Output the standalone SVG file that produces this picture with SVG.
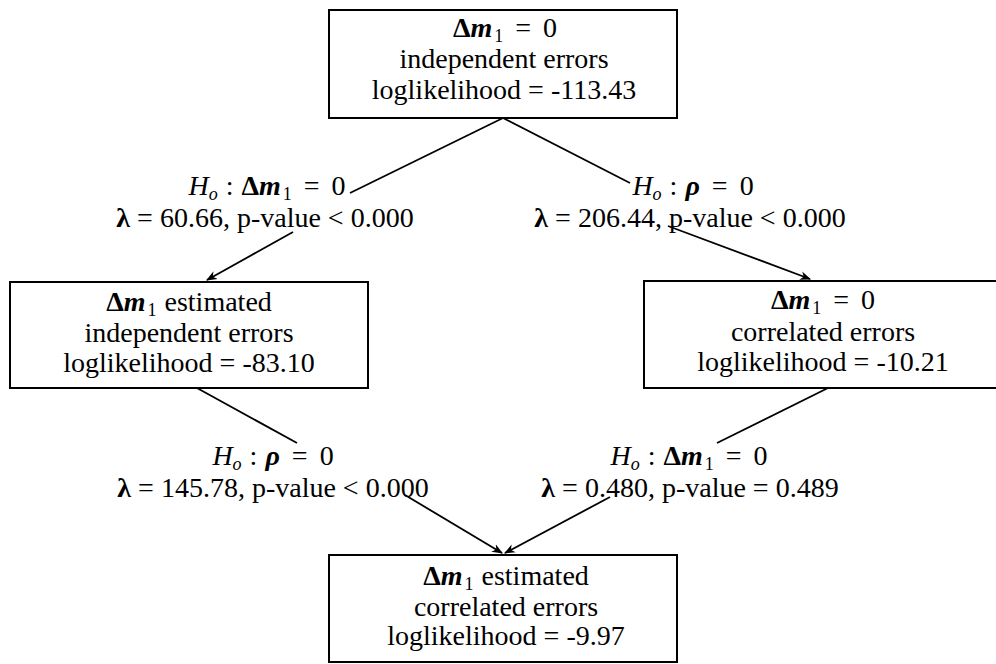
<svg xmlns="http://www.w3.org/2000/svg" width="996" height="664" viewBox="0 0 996 664">
<style>
text{font-family:"Liberation Serif","Times New Roman",serif;font-size:28px;fill:#000;text-anchor:middle}
.b{font-weight:bold}
.i{font-style:italic}
.bi{font-weight:bold;font-style:italic}
.s{font-size:18px}
.box{fill:#fff;stroke:#000;stroke-width:2}
.ln{fill:none;stroke:#000;stroke-width:1.8}
</style>
<defs>
<marker id="ah" viewBox="0 0 10 10" refX="9" refY="5" markerWidth="11" markerHeight="11" markerUnits="userSpaceOnUse" orient="auto">
<path d="M0,1 L10,5 L0,9 L3,5 z" fill="#000"/>
</marker>
</defs>
<rect width="996" height="664" fill="#fff"/>

<g id="connectors">
<line class="ln" x1="503" y1="118" x2="350" y2="193"/>
<line class="ln" x1="503" y1="118" x2="630" y2="183"/>
<line class="ln" x1="293" y1="232" x2="207" y2="280" marker-end="url(#ah)"/>
<line class="ln" x1="668" y1="226" x2="810" y2="279" marker-end="url(#ah)"/>
<line class="ln" x1="197" y1="388" x2="297" y2="443"/>
<line class="ln" x1="828" y1="388" x2="717" y2="443"/>
<line class="ln" x1="405" y1="495" x2="502" y2="553" marker-end="url(#ah)"/>
<line class="ln" x1="610" y1="497" x2="505" y2="553" marker-end="url(#ah)"/>
</g>

<g id="node-top">
<rect class="box" x="329" y="10" width="348" height="108"/>
<text x="505" y="37"><tspan class="b">Δ</tspan><tspan class="bi">m</tspan><tspan class="s" dx="2" dy="5">1</tspan><tspan dy="-5" dx="12">=</tspan><tspan dx="12">0</tspan></text>
<text x="504" y="68">independent errors</text>
<text x="504" y="99">loglikelihood = -113.43</text>
</g>

<g id="node-left">
<rect class="box" x="10" y="282" width="358" height="106"/>
<text x="189" y="311"><tspan class="b">Δ</tspan><tspan class="bi">m</tspan><tspan class="s" dx="2" dy="5">1</tspan><tspan dy="-5" dx="8">estimated</tspan></text>
<text x="189" y="342">independent errors</text>
<text x="189" y="372">loglikelihood = -83.10</text>
</g>

<g id="node-right">
<rect class="box" x="644" y="281" width="360" height="107"/>
<text x="823" y="309"><tspan class="b">Δ</tspan><tspan class="bi">m</tspan><tspan class="s" dx="2" dy="5">1</tspan><tspan dy="-5" dx="12">=</tspan><tspan dx="12">0</tspan></text>
<text x="823" y="341">correlated errors</text>
<text x="823" y="371">loglikelihood = -10.21</text>
</g>

<g id="node-bottom">
<rect class="box" x="329" y="555" width="348" height="107"/>
<text x="506" y="585"><tspan class="b">Δ</tspan><tspan class="bi">m</tspan><tspan class="s" dx="2" dy="5">1</tspan><tspan dy="-5" dx="8">estimated</tspan></text>
<text x="506" y="616">correlated errors</text>
<text x="506" y="645">loglikelihood = -9.97</text>
</g>

<g id="label-top-left">
<text x="267" y="195"><tspan class="i">H</tspan><tspan class="i s" dy="5">o</tspan><tspan dy="-5" dx="8">:</tspan><tspan class="b" dx="8">Δ</tspan><tspan class="bi">m</tspan><tspan class="s" dx="2" dy="5">1</tspan><tspan dy="-5" dx="12">=</tspan><tspan dx="12">0</tspan></text>
<text x="265" y="227"><tspan class="b">λ</tspan> = 60.66, p-value &lt; 0.000</text>
</g>

<g id="label-top-right">
<text x="693" y="195"><tspan class="i">H</tspan><tspan class="i s" dy="5">o</tspan><tspan dy="-5" dx="8">:</tspan><tspan class="bi" dx="8">ρ</tspan><tspan dx="12">=</tspan><tspan dx="12">0</tspan></text>
<text x="690" y="227"><tspan class="b">λ</tspan> = 206.44, p-value &lt; 0.000</text>
</g>

<g id="label-bottom-left">
<text x="273" y="465"><tspan class="i">H</tspan><tspan class="i s" dy="5">o</tspan><tspan dy="-5" dx="8">:</tspan><tspan class="bi" dx="8">ρ</tspan><tspan dx="12">=</tspan><tspan dx="12">0</tspan></text>
<text x="273" y="497"><tspan class="b">λ</tspan> = 145.78, p-value &lt; 0.000</text>
</g>

<g id="label-bottom-right">
<text x="689" y="465"><tspan class="i">H</tspan><tspan class="i s" dy="5">o</tspan><tspan dy="-5" dx="8">:</tspan><tspan class="b" dx="8">Δ</tspan><tspan class="bi">m</tspan><tspan class="s" dx="2" dy="5">1</tspan><tspan dy="-5" dx="12">=</tspan><tspan dx="12">0</tspan></text>
<text x="690" y="497"><tspan class="b">λ</tspan> = 0.480, p-value = 0.489</text>
</g>
</svg>
